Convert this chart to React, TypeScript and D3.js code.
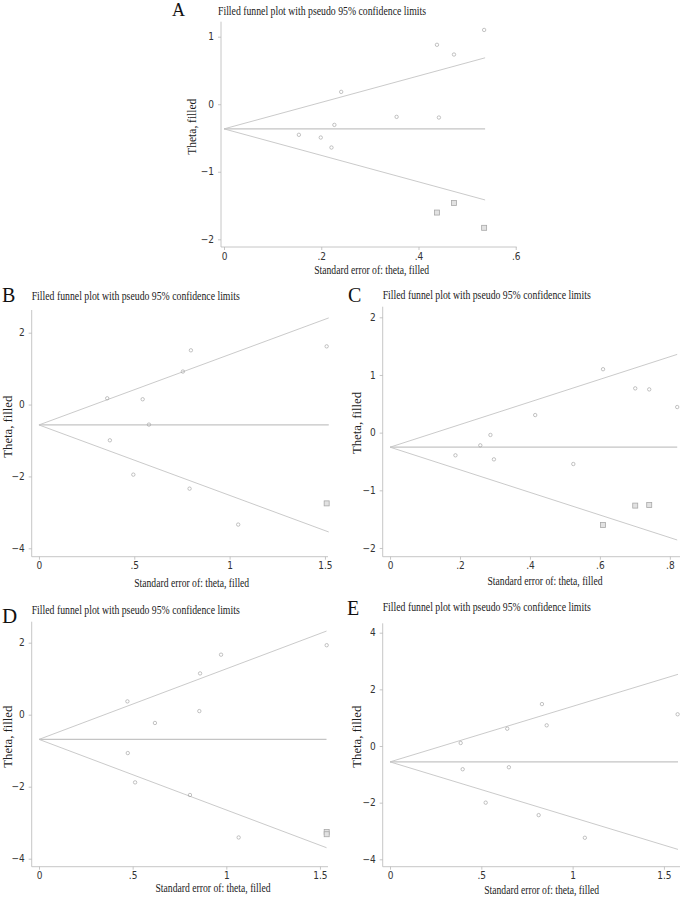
import React, { useEffect, useRef } from "react";
import * as d3 from "d3";

// ---- data ----
const panelLetters = ["A", "B", "C", "D", "E"];
const titleText = "Filled funnel plot with pseudo 95% confidence limits";
const xLabelText = "Standard error of: theta, filled";
const yLabelText = "Theta, filled";

// pooled estimate (theta) and largest standard error of each panel
const pooledTheta = [-0.365, -0.567, -0.252, -0.686, -0.56];
const maxSE = [0.537, 1.52, 0.821, 1.535, 1.577];

// observed studies
const seA = [0.154, 0.199, 0.221, 0.227, 0.241, 0.355, 0.442, 0.438, 0.473, 0.535];
const thetaA = [-0.453, -0.493, -0.641, -0.306, 0.183, -0.187, -0.197, 0.88, 0.736, 1.1];
const seB = [0.358, 0.372, 0.495, 0.544, 0.577, 0.755, 0.797, 0.79, 1.045, 1.509];
const thetaB = [0.175, -0.994, -1.95, 0.148, -0.557, 0.919, 1.51, -2.34, -3.34, 1.62];
const seC = [0.187, 0.258, 0.287, 0.297, 0.415, 0.524, 0.609, 0.701, 0.741, 0.821];
const thetaC = [-0.393, -0.22, -0.04, -0.463, 0.305, -0.544, 1.1, 0.768, 0.75, 0.444];
const seD = [0.474, 0.472, 0.513, 0.619, 0.856, 0.86, 0.806, 0.972, 1.066, 1.536];
const thetaD = [-1.066, 0.37, -1.88, -0.23, 0.1, 1.147, -2.23, 1.667, -3.41, 1.93];
const seE = [0.387, 0.398, 0.524, 0.642, 0.651, 0.832, 0.858, 0.814, 1.067, 1.575];
const thetaE = [0.106, -0.82, -2.0, 0.61, -0.75, 1.48, 0.73, -2.44, -3.24, 1.12];

// imputed (filled) studies
const filledSeA = [0.438, 0.473, 0.535];
const filledThetaA = [-1.604, -1.461, -1.83];
const filledSeB = [1.509];
const filledThetaB = [-2.75];
const filledSeC = [0.609, 0.701, 0.741];
const filledThetaC = [-1.6, -1.265, -1.255];
const filledSeD = [1.536, 1.536];
const filledThetaD = [-3.26, -3.32];
const filledSeE: number[] = [];
const filledThetaE: number[] = [];

// tick values and labels
const xTicksA = [0, 0.2, 0.4, 0.6];
const xTickLabelsA = ["0", ".2", ".4", ".6"];
const xTicksB = [0, 0.5, 1, 1.5];
const xTickLabelsB = ["0", ".5", "1", "1.5"];
const xTicksC = [0, 0.2, 0.4, 0.6, 0.8];
const xTickLabelsC = ["0", ".2", ".4", ".6", ".8"];
const yTicksA = [-2, -1, 0, 1];
const yTicksB = [-4, -2, 0, 2];
const yTicksC = [-2, -1, 0, 1, 2];
const yTicksE = [-4, -2, 0, 2, 4];

const panels = [
  { se: seA, theta: thetaA, fse: filledSeA, ftheta: filledThetaA, xt: xTicksA, xtl: xTickLabelsA, yt: yTicksA },
  { se: seB, theta: thetaB, fse: filledSeB, ftheta: filledThetaB, xt: xTicksB, xtl: xTickLabelsB, yt: yTicksB },
  { se: seC, theta: thetaC, fse: filledSeC, ftheta: filledThetaC, xt: xTicksC, xtl: xTickLabelsC, yt: yTicksC },
  { se: seD, theta: thetaD, fse: filledSeD, ftheta: filledThetaD, xt: xTicksB, xtl: xTickLabelsB, yt: yTicksB },
  { se: seE, theta: thetaE, fse: filledSeE, ftheta: filledThetaE, xt: xTicksB, xtl: xTickLabelsB, yt: yTicksE },
];

// layout of each panel (pixel boxes and axis extents)
const layout = [
  { left: 221, right: 516.7, top: 21.7, bottom: 247, xDom: [-0.0062, 0.602], yDom: [-2.114, 1.222],
    title: [218, 14.5], letter: [172, 15.5, 18], xLab: [371.7, 274, 115], yLab: [191.7, 126.7, 56] },
  { left: 31.7, right: 328, top: 310, bottom: 556.7, xDom: [-0.038, 1.516], yDom: [-4.234, 2.632],
    title: [31.7, 300], letter: [2, 302, 20], xLab: [191.7, 587, 115], yLab: [7.5, 426.7, 62] },
  { left: 382.7, right: 680, top: 306.7, bottom: 556.7, xDom: [-0.021, 0.829], yDom: [-2.151, 2.184],
    title: [382.7, 299], letter: [348, 302, 20], xLab: [545, 585, 115], yLab: [356.7, 423, 62] },
  { left: 31.7, right: 328, top: 621.7, bottom: 866.7, xDom: [-0.039, 1.543], yDom: [-4.222, 2.583],
    title: [31.7, 614], letter: [2, 623, 21], xLab: [213, 892, 115], yLab: [7.5, 736.7, 62] },
  { left: 382.7, right: 680, top: 623.3, bottom: 866.7, xDom: [-0.04, 1.588], yDom: [-4.261, 4.332],
    title: [382.7, 610.5], letter: [347, 615, 20], xLab: [541.7, 894, 115], yLab: [356, 736.7, 62] },
];

const serif = "'Liberation Serif', 'Times New Roman', serif";
const narrow = "'Liberation Sans Narrow', 'DejaVu Sans Condensed', 'Liberation Sans', sans-serif";
const lineGray = "#c4c4c4";
const axisGray = "#b8b8b8";
const textColor = "#222";

const App = () => {
  const svgRef = useRef<SVGSVGElement>(null);

  useEffect(() => {
    const svg = d3.select(svgRef.current);
    svg.selectAll("*").remove();
    svg.append("rect").attr("width", 685).attr("height", 898).attr("fill", "#fff");

    panels.forEach((p, i) => {
      const L = layout[i];
      const g = svg.append("g");
      const x = d3.scaleLinear().domain(L.xDom).range([L.left, L.right]);
      const y = d3.scaleLinear().domain(L.yDom).range([L.bottom, L.top]);

      // axes
      const yAxis = g.append("g")
        .attr("transform", `translate(${L.left},0)`)
        .call(d3.axisLeft(y).tickValues(p.yt).tickSize(3).tickPadding(4)
          .tickFormat(d => (+d < 0 ? "\u2212" + Math.abs(+d) : String(d))));
      yAxis.select(".domain").attr("d", `M0,${L.top}V${L.bottom}`);
      const xAxis = g.append("g")
        .attr("transform", `translate(0,${L.bottom})`)
        .call(d3.axisBottom(x).tickValues(p.xt).tickSize(3).tickPadding(2.5)
          .tickFormat((d, k) => p.xtl[k]));
      xAxis.select(".domain").attr("d", `M${L.left},0H${L.right}`);
      [yAxis, xAxis].forEach(ax => {
        ax.selectAll("path, line").attr("stroke", axisGray).attr("stroke-width", 0.8);
        ax.selectAll("text").attr("fill", "#333").style("font-family", narrow).style("font-size", "10px");
      });

      // funnel lines
      const c = pooledTheta[i];
      const m = maxSE[i];
      const line = d3.line<[number, number]>().x(d => x(d[0])).y(d => y(d[1]));
      const funnel: [number, number][][] = [
        [[0, c], [m, c + 1.96 * m]],
        [[0, c], [m, c]],
        [[0, c], [m, c - 1.96 * m]],
      ];
      g.selectAll("path.funnel").data(funnel).enter().append("path")
        .attr("class", "funnel")
        .attr("d", d => line(d))
        .attr("fill", "none")
        .attr("stroke", lineGray)
        .attr("stroke-width", (d, k) => (k === 1 ? 1.3 : 0.9));

      // observed studies
      g.selectAll("circle.study").data(p.se).enter().append("circle")
        .attr("class", "study")
        .attr("cx", d => x(d))
        .attr("cy", (d, k) => y(p.theta[k]))
        .attr("r", 1.7)
        .attr("fill", "none")
        .attr("stroke", "#9a9a9a")
        .attr("stroke-width", 0.6);

      // filled studies
      g.selectAll("rect.filled").data(p.fse).enter().append("rect")
        .attr("class", "filled")
        .attr("x", d => x(d) - 2.5)
        .attr("y", (d, k) => y(p.ftheta[k]) - 2.5)
        .attr("width", 5)
        .attr("height", 5)
        .attr("fill", "#e2e2e2")
        .attr("stroke", "#a8a8a8")
        .attr("stroke-width", 0.8);

      // texts
      g.append("text")
        .attr("x", L.title[0]).attr("y", L.title[1])
        .attr("textLength", 208).attr("lengthAdjust", "spacingAndGlyphs")
        .style("font-family", serif).style("font-size", "12.5px").attr("fill", textColor)
        .text(titleText);
      g.append("text")
        .attr("x", L.letter[0]).attr("y", L.letter[1])
        .style("font-family", serif).style("font-size", `${L.letter[2]}px`).attr("fill", "#111")
        .text(panelLetters[i]);
      g.append("text")
        .attr("x", L.xLab[0] - L.xLab[2] / 2).attr("y", L.xLab[1])
        .attr("textLength", L.xLab[2]).attr("lengthAdjust", "spacingAndGlyphs")
        .style("font-family", serif).style("font-size", "13px").attr("fill", textColor)
        .text(xLabelText);
      g.append("text")
        .attr("transform", `translate(${L.yLab[0]},${L.yLab[1]}) rotate(-90)`)
        .attr("x", -L.yLab[2] / 2).attr("y", 0)
        .attr("dominant-baseline", "central")
        .attr("textLength", L.yLab[2]).attr("lengthAdjust", "spacingAndGlyphs")
        .style("font-family", serif).style("font-size", "13px").attr("fill", textColor)
        .text(yLabelText);
    });
  }, []);

  return (
    <svg
      ref={svgRef}
      width={685}
      height={898}
      style={{ position: "absolute", left: 0, top: 0, display: "block" }}
    />
  );
};

export default App;
